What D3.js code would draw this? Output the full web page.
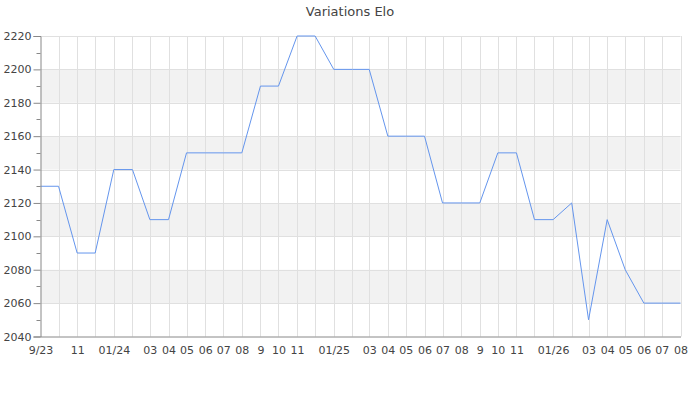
<!DOCTYPE html>
<html><head><meta charset="utf-8">
<script src="https://cdn.jsdelivr.net/npm/d3@7"></script>
<style>body{margin:0;background:#fff;font-family:"DejaVu Sans",sans-serif;}</style>
</head><body><svg id="c" width="700" height="400"></svg>
<script>
const title = "Variations Elo";
const months = ["2023-09","2023-10","2023-11","2023-12","2024-01","2024-02","2024-03","2024-04","2024-05","2024-06","2024-07","2024-08","2024-09","2024-10","2024-11","2024-12","2025-01","2025-02","2025-03","2025-04","2025-05","2025-06","2025-07","2025-08","2025-09","2025-10","2025-11","2025-12","2026-01","2026-02","2026-03","2026-04","2026-05","2026-06","2026-07","2026-08"];
const elo = [2130,2130,2090,2090,2140,2140,2110,2110,2150,2150,2150,2150,2190,2190,2220,2220,2200,2200,2200,2160,2160,2160,2120,2120,2120,2150,2150,2110,2110,2120,2050,2110,2080,2060,2060,2060];
const tickLabels = ["9/23","","11","","01/24","","03","04","05","06","07","08","9","10","11","","01/25","","03","04","05","06","07","08","9","10","11","","01/26","","03","04","05","06","07","08"];
const yTicks = [2040,2060,2080,2100,2120,2140,2160,2180,2200,2220];

const svg = d3.select("#c");
const L = 40.5, R = 680.5, T = 36, B = 336.5;
const parse = d3.utcParse("%Y-%m");
const dates = months.map(parse);
const x = d3.scaleUtc().domain([dates[0], dates[dates.length-1]]).range([L, R]);
const y = d3.scaleLinear().domain([2040, 2220]).range([B, T]);

// bands
const bands = [[2060,2080],[2100,2120],[2140,2160],[2180,2200]];
svg.append("g").selectAll("rect").data(bands).join("rect")
  .attr("x", L).attr("width", R - L)
  .attr("y", d => y(d[1])).attr("height", d => y(d[0]) - y(d[1]))
  .attr("fill", "#f2f2f2");

// horizontal grid
svg.append("g").selectAll("line").data(yTicks.slice(1)).join("line")
  .attr("x1", L).attr("x2", R)
  .attr("y1", d => Math.round(y(d)) + 0.5).attr("y2", d => Math.round(y(d)) + 0.5)
  .attr("stroke", "#e0e0e0");
// vertical grid
svg.append("g").selectAll("line").data(dates.slice(1)).join("line")
  .attr("x1", d => Math.round(x(d)) + 0.5).attr("x2", d => Math.round(x(d)) + 0.5)
  .attr("y1", T).attr("y2", B)
  .attr("stroke", "#e0e0e0");

// line
svg.append("path").datum(elo)
  .attr("fill", "none").attr("stroke", "#6495ed").attr("stroke-width", 1)
  .attr("d", d3.line().x((d, i) => x(dates[i])).y(d => y(d)));

// y axis
const yAxis = svg.append("g").attr("transform", `translate(${L},0)`)
  .call(d3.axisLeft(y).tickValues(yTicks).tickSize(7).tickPadding(2).tickFormat(d3.format("d")));
const minor = d3.range(2050, 2220, 20);
svg.append("g").selectAll("line").data(minor).join("line")
  .attr("x1", L - 4).attr("x2", L)
  .attr("y1", d => Math.round(y(d)) + 0.5).attr("y2", d => Math.round(y(d)) + 0.5)
  .attr("stroke", "#888");

// x axis
const xAxis = svg.append("g").attr("transform", `translate(0,${B})`)
  .call(d3.axisBottom(x).tickValues(dates).tickSize(0).tickPadding(10).tickFormat((d, i) => tickLabels[i]));

[yAxis, xAxis].forEach(g => {
  g.select(".domain").attr("stroke", "#888");
  g.selectAll(".tick line").attr("stroke", "#888");
  g.selectAll("text").attr("fill", "#444").style("font-family", "DejaVu Sans").style("font-size", "11px");
});

svg.append("text").attr("x", 350).attr("y", 16).attr("text-anchor", "middle")
  .attr("fill", "#444").style("font-family", "DejaVu Sans").style("font-size", "13px").text(title);
</script></body></html>
